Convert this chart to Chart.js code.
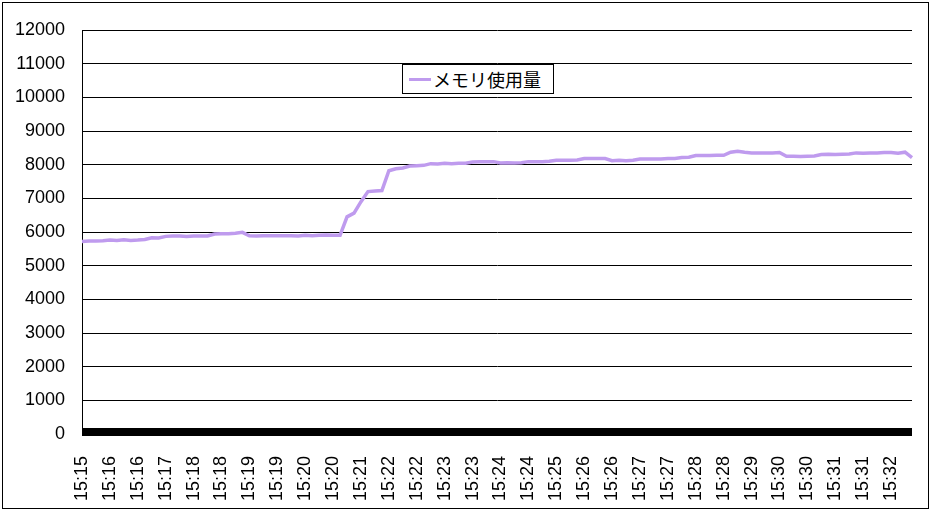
<!DOCTYPE html>
<html lang="ja">
<head>
<meta charset="utf-8">
<title>メモリ使用量</title>
<script src="https://cdn.jsdelivr.net/npm/chart.js@4.4.1/dist/chart.umd.min.js"></script>
<style>
    html, body { margin: 0; padding: 0; background: #fff; }
    #wrap { position: relative; width: 930px; height: 510px; }
    #grafico { display: block; }
    #moldura {
        position: absolute; left: 2px; top: 2px; width: 925px; height: 505px;
        border: 1px solid #000; pointer-events: none;
    }
    #legenda {
        position: absolute; left: 402px; top: 64px; width: 150px; height: 28px;
        border: 1px solid #000; background: #fff;
        font: 18px "Noto Sans CJK JP", sans-serif; color: #000;
        display: flex; align-items: center; box-sizing: content-box;
    }
    #legenda .linha { display: inline-block; width: 22px; height: 3px; margin: 0 2px 0 6px; }
</style>
</head>
<body>
<div id="wrap">
    <canvas id="grafico" width="930" height="510"></canvas>
    <div id="moldura"></div>
    <div id="legenda"></div>
</div>
<script>
// rótulos do eixo X (um a cada 4 amostras)
const rotulosTempo = [
    '15:15', '15:16', '15:16', '15:17', '15:18', '15:18', '15:19', '15:19', '15:20', '15:20',
    '15:21', '15:22', '15:22', '15:23', '15:23', '15:24', '15:24', '15:25', '15:26', '15:26',
    '15:27', '15:27', '15:28', '15:28', '15:29', '15:30', '15:30', '15:31', '15:31', '15:32'
];
const AMOSTRAS_POR_ROTULO = 4;

// memória usada
const memoriaUsada = [
    5720, 5730, 5730, 5740, 5760, 5750, 5770, 5750, 5760, 5780,
    5830, 5820, 5870, 5880, 5880, 5870, 5880, 5880, 5880, 5940,
    5950, 5950, 5960, 5990, 5890, 5880, 5890, 5890, 5890, 5890,
    5890, 5880, 5900, 5890, 5900, 5910, 5900, 5900, 6450, 6560,
    6900, 7200, 7220, 7230, 7820, 7880, 7900, 7960, 7970, 7980,
    8030, 8020, 8040, 8030, 8040, 8040, 8080, 8090, 8090, 8090,
    8050, 8060, 8050, 8060, 8090, 8090, 8090, 8100, 8130, 8130,
    8130, 8140, 8180, 8180, 8180, 8180, 8120, 8130, 8120, 8130,
    8170, 8170, 8170, 8170, 8180, 8180, 8210, 8220, 8270, 8270,
    8270, 8280, 8280, 8370, 8400, 8370, 8350, 8350, 8350, 8350,
    8360, 8250, 8250, 8240, 8250, 8260, 8300, 8310, 8300, 8310,
    8320, 8350, 8340, 8350, 8350, 8360, 8360, 8340, 8370, 8210
];

const yTicks = { min: 0, max: 12000, step: 1000 };
const COR_LINHA = '#BF9BEE';
const FONTE = { family: '"Liberation Sans", Arial, sans-serif', size: 18 };

// faixa preta grossa do eixo X, do tamanho exato da área do gráfico
const eixoGrosso = {
    id: 'eixoGrosso',
    beforeDatasetsDraw(chart) {
        const { ctx, chartArea } = chart;
        ctx.save();
        ctx.fillStyle = '#000';
        ctx.fillRect(chartArea.left, chartArea.bottom - 6, chartArea.right - chartArea.left, 8);
        ctx.restore();
    }
};

const ctx = document.getElementById('grafico').getContext('2d');
const grafico = new Chart(ctx, {
    type: 'line',
    data: {
        labels: memoriaUsada.map((_, i) => i),
        datasets: [{
            label: 'メモリ使用量',
            data: memoriaUsada,
            borderColor: COR_LINHA,
            borderWidth: 3.5,
            pointRadius: 0,
            tension: 0,
            fill: false
        }]
    },
    options: {
        responsive: false,
        animation: false,
        layout: { padding: { top: 30, right: 18, left: 0, bottom: 0 } },
        plugins: {
            legend: { display: false },
            tooltip: { enabled: false }
        },
        scales: {
            x: {
                offset: false,
                grid: { display: false },
                border: { display: false },
                ticks: {
                    autoSkip: false,
                    minRotation: 90,
                    maxRotation: 90,
                    padding: 14,
                    color: '#000',
                    font: FONTE,
                    callback: (v, i) => i % AMOSTRAS_POR_ROTULO === 0 ? rotulosTempo[i / AMOSTRAS_POR_ROTULO] : null
                },
                afterFit: (s) => { s.height = 76; }
            },
            y: {
                min: yTicks.min,
                max: yTicks.max,
                grid: { color: '#000', lineWidth: 1, drawTicks: false },
                border: { display: true, color: '#000', width: 1 },
                ticks: {
                    stepSize: yTicks.step,
                    padding: 17,
                    color: '#000',
                    font: FONTE,
                    callback: (v) => String(v)
                },
                afterFit: (s) => { s.width = 82; }
            }
        }
    },
    plugins: [eixoGrosso]
});

// legenda em HTML, dentro da área do gráfico
const legenda = document.getElementById('legenda');
grafico.data.datasets.forEach((ds) => {
    const linha = document.createElement('span');
    linha.className = 'linha';
    linha.style.background = ds.borderColor;
    const texto = document.createElement('span');
    texto.textContent = ds.label;
    legenda.appendChild(linha);
    legenda.appendChild(texto);
});
</script>
</body>
</html>
